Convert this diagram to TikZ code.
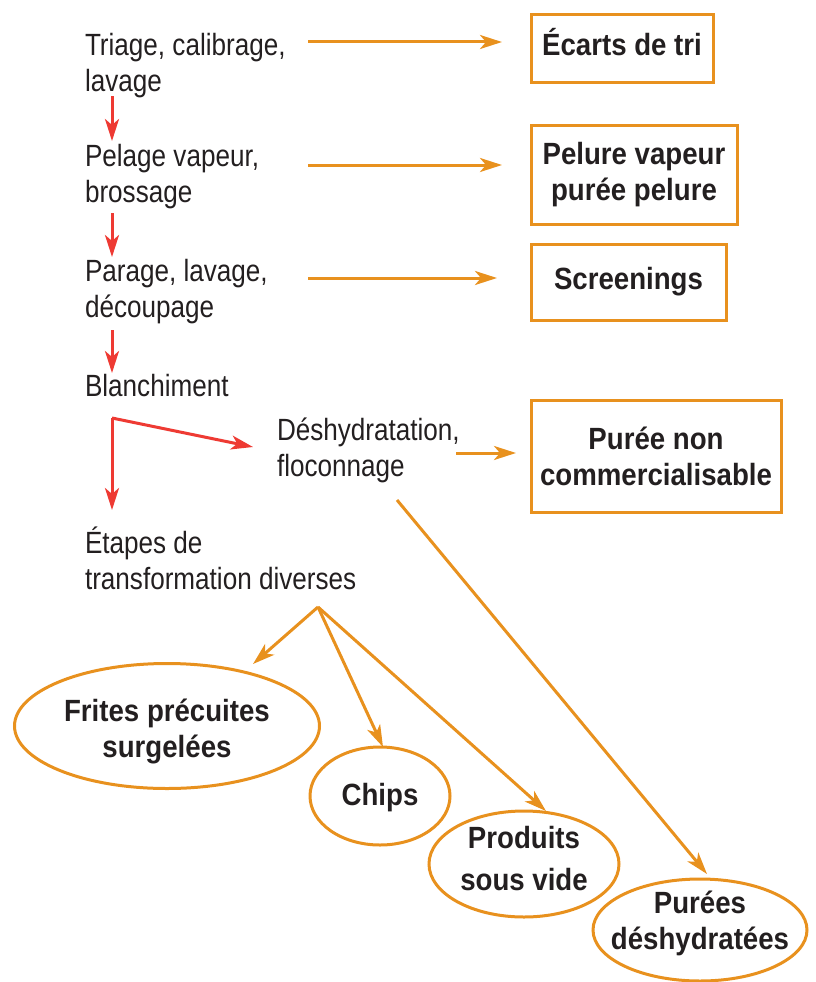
\documentclass[tikz,border=0pt]{standalone}
\usepackage{fontspec}
\setmainfont[FakeStretch=0.85,BoldFeatures={FakeStretch=0.9}]{Liberation Sans}
\usetikzlibrary{arrows.meta,shapes.geometric}
\definecolor{org}{HTML}{E8911E}
\definecolor{rd}{HTML}{EE3A33}
\definecolor{txt}{HTML}{231F20}
\begin{document}
\begin{tikzpicture}[x=1pt,y=-1pt,
  every node/.style={font=\fontsize{30.7}{36}\selectfont, text=txt, inner sep=0pt, outer sep=0pt},
  proc/.style={align=left, anchor=north west},
  boldtext/.style={font=\bfseries\fontsize{30.7}{36}\selectfont, align=center, text=txt},
  outbox/.style={draw=org, line width=3pt, boldtext},
  prodell/.style={ellipse, draw=org, line width=3pt},
  oarr/.style={draw=org, line width=3pt, -{Stealth[length=22pt,width=14pt,inset=6pt]}},
  rarr/.style={draw=rd, line width=3pt, -{Stealth[length=22pt,width=14pt,inset=6pt]}}
]
\useasboundingbox (0,0) rectangle (815,982);
% process texts
\node[proc] (tri) at (85,33) {Triage, calibrage,\\lavage};
\node[proc] (pel) at (85,144) {Pelage vapeur,\\brossage};
\node[proc] (par) at (85,259) {Parage, lavage,\\découpage};
\node[proc] (blan) at (85,374) {Blanchiment};
\node[proc] (desh) at (277,418) {Déshydratation,\\floconnage};
\node[proc] (etap) at (85,527) {Étapes de\\transformation diverses};
% by-product boxes
\node[outbox, minimum width=182pt, minimum height=67pt,
      label={[boldtext,yshift=6pt]center:Écarts de tri}] (ecart) at (622,48.5) {};
\node[outbox, minimum width=206pt, minimum height=99pt] (pelure) at (634,174.5) {Pelure vapeur\\purée pelure};
\node[outbox, minimum width=195pt, minimum height=76pt] (screen) at (628.5,282) {Screenings};
\node[outbox, minimum width=250pt, minimum height=112pt] (nonc) at (656,456) {Purée non\\commercialisable};
% products
\node[prodell, minimum width=305pt, minimum height=125pt,
      label={[boldtext,yshift=-5pt]center:Frites précuites\\surgelées}] (frites) at (167,726) {};
\node[prodell, minimum width=140pt, minimum height=98pt,
      label={[boldtext,yshift=-2pt]center:Chips}] (chips) at (380,796) {};
\node[prodell, minimum width=190pt, minimum height=106pt,
      label={[boldtext,yshift=5pt]center:Produits\\[6pt]sous vide}] (vide) at (524,864) {};
\node[prodell, minimum width=214pt, minimum height=102pt,
      label={[boldtext,yshift=7pt]center:Purées\\déshydratées}] (pure) at (700,930) {};
% connector ends
\coordinate (r1a) at (112,96);  \coordinate (r1b) at (112,141);
\coordinate (r2a) at (112,213); \coordinate (r2b) at (112,257);
\coordinate (r3a) at (112,330); \coordinate (r3b) at (112,373);
\coordinate (split) at (112,418);
\coordinate (r4b) at (112,510); \coordinate (r5b) at (253,447);
\coordinate (o1a) at (308,42);  \coordinate (o1b) at (502,42);
\coordinate (o2a) at (308,165); \coordinate (o2b) at (502,165);
\coordinate (o3a) at (308,278); \coordinate (o3b) at (497,278);
\coordinate (o4a) at (456,453); \coordinate (o4b) at (516,453);
\coordinate (fan) at (318,607);
\coordinate (tipF) at (253,664);
\coordinate (tipV) at (546,811);
\coordinate (dstart) at (397,500);
\coordinate (tipP) at (707,874);
% red flow
\draw[rarr] (r1a) -- (r1b);
\draw[rarr] (r2a) -- (r2b);
\draw[rarr] (r3a) -- (r3b);
\draw[rarr] (split) -- (r4b);
\draw[rarr] (split) -- (r5b);
% orange
\draw[oarr] (o1a) -- (o1b);
\draw[oarr] (o2a) -- (o2b);
\draw[oarr] (o3a) -- (o3b);
\draw[oarr] (o4a) -- (o4b);
\draw[oarr] (fan) -- (tipF);
\draw[oarr] (fan) -- ([xshift=3pt]chips.north);
\draw[oarr] (fan) -- (tipV);
\draw[oarr] (dstart) -- (tipP);
\end{tikzpicture}
\end{document}
